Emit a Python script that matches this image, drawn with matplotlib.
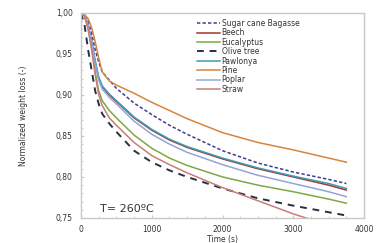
#!/usr/bin/env python3

import numpy as np
import matplotlib
matplotlib.use("Agg")
import matplotlib.pyplot as plt
from matplotlib.ticker import FuncFormatter, MultipleLocator

# time axis (s) shared by all curves
time = [0, 50, 100, 150, 200, 250, 300, 400, 500, 750, 1000, 1250, 1500, 2000, 2500, 3000, 3500, 3750]

sugar_cane = [1.0, 0.997, 0.990, 0.975, 0.955, 0.940, 0.928, 0.918, 0.908, 0.890, 0.876, 0.863, 0.852, 0.832, 0.817, 0.806, 0.797, 0.792]
beech = [1.0, 0.997, 0.985, 0.965, 0.940, 0.920, 0.910, 0.900, 0.892, 0.872, 0.857, 0.845, 0.836, 0.822, 0.810, 0.800, 0.790, 0.784]
eucalyptus = [1.0, 0.996, 0.982, 0.958, 0.928, 0.905, 0.893, 0.881, 0.872, 0.851, 0.835, 0.823, 0.814, 0.800, 0.790, 0.782, 0.773, 0.768]
olive_tree = [1.0, 0.985, 0.955, 0.930, 0.905, 0.889, 0.877, 0.865, 0.855, 0.832, 0.818, 0.808, 0.800, 0.786, 0.774, 0.765, 0.757, 0.753]
pawlonya = [1.0, 0.997, 0.986, 0.966, 0.942, 0.922, 0.911, 0.901, 0.893, 0.873, 0.858, 0.846, 0.837, 0.823, 0.811, 0.801, 0.792, 0.786]
pine = [1.0, 0.998, 0.993, 0.982, 0.965, 0.945, 0.928, 0.917, 0.912, 0.902, 0.891, 0.881, 0.871, 0.854, 0.842, 0.833, 0.823, 0.818]
poplar = [1.0, 0.997, 0.985, 0.964, 0.938, 0.918, 0.907, 0.897, 0.889, 0.868, 0.852, 0.840, 0.830, 0.815, 0.802, 0.792, 0.782, 0.776]
straw = [1.0, 0.996, 0.980, 0.955, 0.925, 0.900, 0.887, 0.872, 0.863, 0.842, 0.826, 0.815, 0.805, 0.787, 0.771, 0.755, 0.741, 0.735]

labels = ["Sugar cane Bagasse", "Beech", "Eucalyptus", "Olive tree",
          "Pawlonya", "Pine", "Poplar", "Straw"]
series = [sugar_cane, beech, eucalyptus, olive_tree, pawlonya, pine, poplar, straw]
colors = ["#3a3f8c", "#a2352e", "#7fa842", "#2b2f42",
          "#3d9db5", "#d9843c", "#93a4d8", "#c97d76"]
styles = [(0, (2.2, 1.4)), "-", "-", (0, (3.5, 3)), "-", "-", "-", "-"]
widths = [1.1, 1.1, 1.1, 1.4, 1.1, 1.1, 1.1, 1.1]


def main():
    fig = plt.figure(figsize=(3.84, 2.43), dpi=100)
    ax = fig.add_axes([0.211, 0.103, 0.737, 0.844])

    for y, lab, c, ls, lw in zip(series, labels, colors, styles, widths):
        ax.plot(time, y, color=c, linestyle=ls, linewidth=lw, label=lab)

    ax.set_xlim(0, 4000)
    ax.set_ylim(0.75, 1.0)
    ax.xaxis.set_major_locator(MultipleLocator(1000))
    ax.xaxis.set_minor_locator(MultipleLocator(250))
    ax.yaxis.set_major_locator(MultipleLocator(0.05))
    ax.yaxis.set_minor_locator(MultipleLocator(0.01))
    ax.yaxis.set_major_formatter(FuncFormatter(lambda v, p: f"{v:.2f}".replace(".", ",")))

    for s in ax.spines.values():
        s.set_color("#c8c8c8")
        s.set_linewidth(1.0)
    ax.tick_params(which="both", colors="#c8c8c8", labelcolor="#333333",
                   labelsize=5.5, direction="in")
    ax.tick_params(which="major", length=2.5)
    ax.tick_params(which="minor", length=1.5)
    ax.tick_params(axis="x", pad=5)
    ax.tick_params(axis="y", pad=6)

    ax.set_xlabel("Time (s)", fontsize=5.5, color="#333333", labelpad=1)
    ax.set_ylabel("Normalized weight loss (-)", fontsize=5.5, color="#333333", labelpad=20)

    ax.text(270, 0.757, "T= 260ºC", fontsize=8, color="#333333")

    leg = ax.legend(loc="upper left", bbox_to_anchor=(0.4, 0.985), frameon=False,
                    fontsize=5.5, handlelength=3.0, handletextpad=0.2,
                    labelspacing=0.05, borderaxespad=0)
    for t in leg.get_texts():
        t.set_color("#333333")

    fig.savefig("out.png", dpi=100)


if __name__ == '__main__':
    main()
